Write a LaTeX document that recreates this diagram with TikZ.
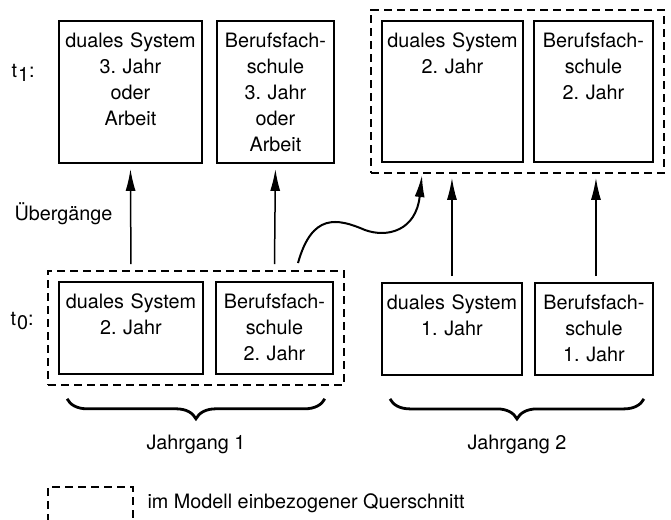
\documentclass[tikz,border=0pt]{standalone}
\usepackage{fontspec}
\setmainfont{TeX Gyre Heros}
\usetikzlibrary{arrows.meta,fit,decorations.pathreplacing}
\frenchspacing

\tikzset{
    kasten/.style={draw, line width=1.9pt, anchor=north west, align=center, inner xsep=2pt, inner ysep=6pt, text height=21pt},
    rahmen/.style={draw, line width=1.8pt, dash pattern=on 8pt off 5pt, inner sep=10pt},
    pfeil/.style={line width=1.5pt, -{Latex[length=22pt,width=10pt]}, shorten <=6pt, shorten >=5pt},
    kurve/.style={line width=2pt, -{Latex[length=22pt,width=10pt]}},
    klammer/.style={line width=2.8pt, decorate, decoration={brace, mirror, amplitude=20pt}}
}

\begin{document}
\begin{tikzpicture}[x=1pt, y=-1pt, font=\fontsize{19.8}{25.8}\selectfont]
                \useasboundingbox (0,0) rectangle (671,519);

                \node[kasten, text width=139pt, text depth=109pt] (a) at (58,20) {duales System\\3. Jahr\\oder\\Arbeit};
                \node[kasten, text width=113pt, text depth=109pt] (b) at (216,20) {Berufsfach-\\schule\\3. Jahr\\oder\\Arbeit};
                \node[kasten, text width=137pt, text depth=108pt] (c) at (381,20) {duales System\\2. Jahr};
                \node[kasten, text width=115pt, text depth=108pt] (d) at (533,20) {Berufsfach-\\schule\\2. Jahr};

                \node[kasten, text width=140pt, text depth=59pt] (e) at (58,281) {duales System\\2. Jahr};
                \node[kasten, text width=113pt, text depth=59pt] (f) at (215,281) {Berufsfach-\\schule\\2. Jahr};
                \node[kasten, text width=136pt, text depth=59pt] (g) at (381,282) {duales System\\1. Jahr};
                \node[kasten, text width=114pt, text depth=59pt] (h) at (534,282) {Berufsfach-\\schule\\1. Jahr};

                \node[rahmen, fit=(c)(d)] (q2) {};
                \node[rahmen, fit=(e)(f)] (q1) {};

                \node[anchor=base west] (t1) at (8,77) {t\kern1pt\raisebox{-0.45ex}{1}:};
                \node[anchor=base west] (t0) at (7,325) {t\kern1pt\raisebox{-0.45ex}{0}:};
                \node[anchor=base west] (ueb) at (11,220) {Übergänge};

                \draw[pfeil] (e.north |- q1.north) -- (a.south);
                \draw[pfeil] (f.north |- q1.north) -- (b.south);
                \draw[pfeil, shorten >=4pt] (g.north) -- (g.north |- q2.south);
                \draw[pfeil, shorten >=4pt] ([xshift=2pt]h.north) -- ([xshift=2pt]h.north |- q2.south);

                \coordinate (kstart) at (298,263);
                \coordinate (kmitte) at (365,230);
                \coordinate (kende) at (422,175);
                \draw[kurve] (kstart) .. controls +(14,-50) and +(-28,-12) .. (kmitte) .. controls +(22,8) and +(-6,56) .. (kende);

                \draw[klammer] ([xshift=20pt,yshift=-13pt]q1.south west) -- ([xshift=-20pt,yshift=-13pt]q1.south east)
                    node[midway, yshift=-46pt] (j1) {Jahrgang 1};
                \draw[klammer] ([xshift=9pt,yshift=-23pt]g.south west) -- ([xshift=-10pt,yshift=-23pt]h.south east)
                    node[midway, yshift=-46pt] (j2) {Jahrgang 2};

                \draw[line width=1.8pt, dash pattern=on 8pt off 5pt] (48,535) |- (133,487) -- (133,535);
                \node[anchor=base west] (legende) at (144,508) {im Modell einbezogener Querschnitt};
\end{tikzpicture}
\end{document}
